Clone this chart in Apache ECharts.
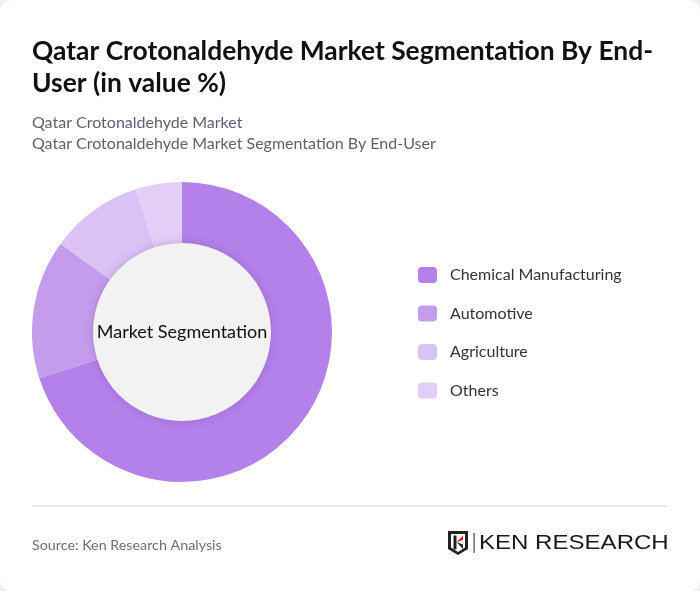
<!DOCTYPE html>
<html>
<head>
<meta charset="utf-8">
<script src="https://cdn.jsdelivr.net/npm/echarts@6/dist/echarts.min.js"></script>
<style>
html,body{margin:0;padding:0;background:#f1f1f3;}
#chart{width:700px;height:591px;background:#ffffff;border-radius:12px;overflow:hidden;}
</style>
</head>
<body>
<div id="chart"></div>
<script>
const titleText = 'Qatar Crotonaldehyde Market Segmentation By End-\nUser (in value %)';
const subtitleLines = ['Qatar Crotonaldehyde Market', 'Qatar Crotonaldehyde Market Segmentation By End-User'];
const categories = ['Chemical Manufacturing', 'Automotive', 'Agriculture', 'Others'];
const values = [70, 15, 10, 5];
const colors = ['#b481ea', '#c49cec', '#dbc2f5', '#e3cef7'];
const centerLabel = 'Market Segmentation';
const sourceText = 'Source: Ken Research Analysis';

const chart = echarts.init(document.getElementById('chart'), null, {renderer: 'canvas'});
const FONT = 'Lato, "Open Sans", sans-serif';

chart.setOption({
  backgroundColor: 'transparent',
  animation: false,
  title: [
    {
      text: titleText,
      left: 32, top: 35, padding: 0,
      textStyle: {fontFamily: FONT, fontSize: 26.4, fontWeight: 'bold', color: '#111111', lineHeight: 32}
    },
    {
      text: subtitleLines.join('\n'),
      left: 32, top: 113, padding: 0,
      textStyle: {fontFamily: FONT, fontSize: 16, fontWeight: 'normal', color: '#5b6170', lineHeight: 20.5}
    },
    {
      text: sourceText,
      left: 32, top: 538, padding: 0,
      textStyle: {fontFamily: FONT, fontSize: 14.3, fontWeight: 'normal', color: '#6b7080'}
    }
  ],
  legend: {
    orient: 'vertical',
    left: 418, top: 267, padding: 0,
    itemWidth: 19, itemHeight: 16,
    itemGap: 22.5,
    icon: 'roundRect',
    data: categories,
    textStyle: {fontFamily: FONT, fontSize: 16, color: '#333333', padding: [0, 0, 0, 8]},
    selectedMode: false
  },
  color: colors,
  series: [
    {
      type: 'pie',
      center: [182, 332],
      radius: [88, 150],
      startAngle: 90,
      clockwise: true,
      silent: true,
      label: {show: false},
      labelLine: {show: false},
      itemStyle: {borderWidth: 0},
      data: categories.map((c, i) => ({name: c, value: values[i], itemStyle: {color: colors[i]}}))
    },
    {
      type: 'pie',
      center: [182, 332],
      radius: [0, 89],
      silent: true,
      z: 3,
      label: {
        show: true, position: 'center', formatter: centerLabel,
        fontFamily: FONT, fontSize: 18, color: '#111111', padding: [3, 0, 0, 0]
      },
      labelLine: {show: false},
      itemStyle: {color: '#f2f2f2', shadowBlur: 8, shadowColor: 'rgba(80,40,120,0.25)'},
      data: [{name: '_center', value: 1}]
    }
  ],
  graphic: [
    {
      type: 'line',
      shape: {x1: 32, y1: 506, x2: 667, y2: 506},
      style: {stroke: '#d5d8de', lineWidth: 1}
    },
    {
      type: 'group',
      left: 448, top: 531,
      children: [
        {type: 'polygon', shape: {points: [[0,0],[20,0],[20,18],[10,24],[0,18]]}, style: {fill: '#222222'}},
        {type: 'polygon', shape: {points: [[3,3],[17,3],[17,16.5],[10,21],[3,16.5]]}, style: {fill: '#ffffff'}},
        {type: 'rect', shape: {x: 5.5, y: 4.5, width: 3, height: 14}, style: {fill: '#222222'}},
        {type: 'polygon', shape: {points: [[8.5,11],[15,4.5],[15,9]]}, style: {fill: '#d7262e'}},
        {type: 'polygon', shape: {points: [[8.5,11],[15,18],[15,13.5]]}, style: {fill: '#222222'}},
        {type: 'rect', shape: {x: 25.5, y: 2, width: 1.2, height: 20}, style: {fill: '#444444'}},
        {type: 'text', x: 31, y: 1.5, scaleX: 1.145, style: {text: 'KEN RESEARCH', font: '21px "Liberation Sans", Arial, sans-serif', fill: '#1a1a1a'}}
      ]
    }
  ]
});
</script>
</body>
</html>
